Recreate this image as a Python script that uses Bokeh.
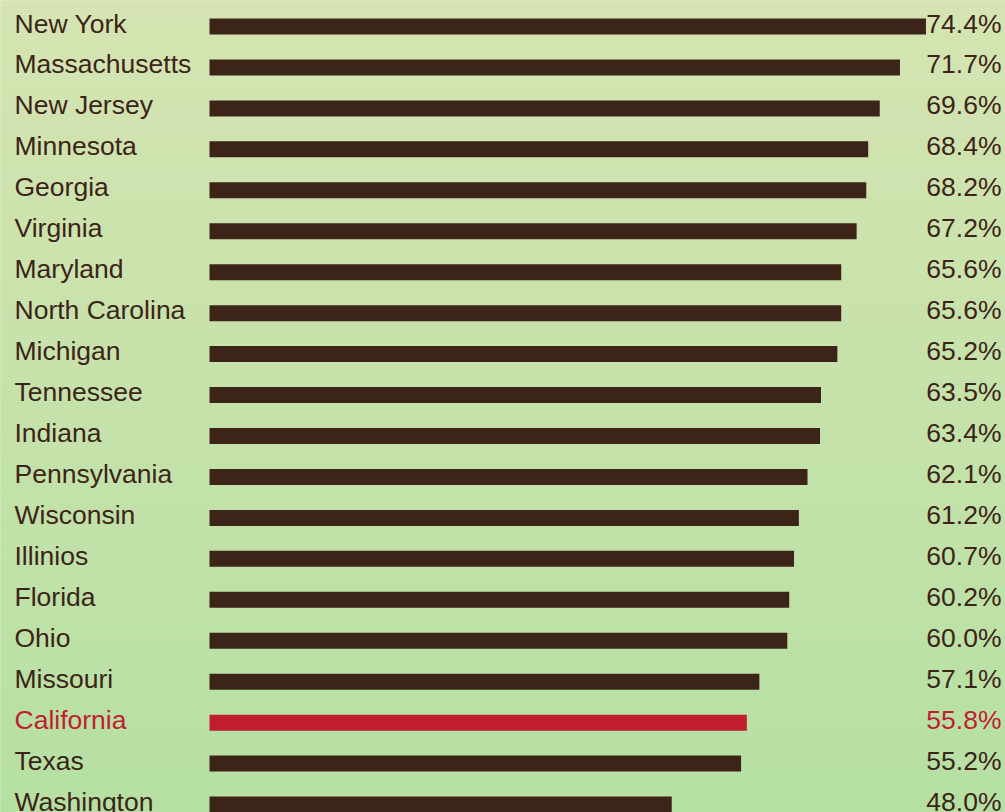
import numpy as np
from bokeh.plotting import figure
from bokeh.models import Range1d
from bokeh.embed import file_html
from bokeh.resources import INLINE
from bokeh.core.properties import value

# ---- data ----
states = ["New York", "Massachusetts", "New Jersey", "Minnesota", "Georgia",
          "Virginia", "Maryland", "North Carolina", "Michigan", "Tennessee",
          "Indiana", "Pennsylvania", "Wisconsin", "Illinios", "Florida",
          "Ohio", "Missouri", "California", "Texas", "Washington"]
rates = [74.4, 71.7, 69.6, 68.4, 68.2, 67.2, 65.6, 65.6, 65.2, 63.5,
         63.4, 62.1, 61.2, 60.7, 60.2, 60.0, 57.1, 55.8, 55.2, 48.0]
rate_labels = ["74.4%", "71.7%", "69.6%", "68.4%", "68.2%", "67.2%", "65.6%",
               "65.6%", "65.2%", "63.5%", "63.4%", "62.1%", "61.2%", "60.7%",
               "60.2%", "60.0%", "57.1%", "55.8%", "55.2%", "48.0%"]
highlight = "California"

# ---- layout / style ----
W, H = 1005, 812
PX_X = 9.63          # px per percentage point
BAR_LEFT_PX = 209    # screen x of the bar baseline
ROW_PX = 40.95       # px per row
FIRST_ROW_PX = 26    # screen y of first row centre
x0 = -BAR_LEFT_PX / PX_X
x1 = x0 + W / PX_X
y_top = -FIRST_ROW_PX / ROW_PX
y_bot = y_top + H / ROW_PX

BROWN = "#3c2418"
RED = "#c01e2e"
FONT = value("Liberation Sans")

p = figure(width=W, height=H, x_range=Range1d(x0, x1), y_range=Range1d(y_bot, y_top),
           output_backend="svg", toolbar_location=None, min_border=0,
           x_axis_location=None, y_axis_location=None)
p.grid.visible = False
p.outline_line_color = None
p.background_fill_color = "#c6e2ad"
p.border_fill_color = "#c6e2ad"

# vertical gradient background
n = 120
edges = np.linspace(y_top, y_bot, n + 1)
top_c = np.array([213, 228, 178])
bot_c = np.array([182, 224, 163])
cols = []
for i in range(n):
    t = i / (n - 1)
    c = (top_c * (1 - t) + bot_c * t).round().astype(int)
    cols.append("#%02x%02x%02x" % tuple(c))
p.quad(left=x0, right=x1, top=edges[:-1], bottom=edges[1:], fill_color=cols,
       line_color=cols, line_width=1)

idx = np.arange(len(states))
colors = [RED if s == highlight else BROWN for s in states]

p.hbar(y=idx, left=0, right=rates, height=16 / ROW_PX, fill_color=colors, line_color=None)

ty = idx - 3 / ROW_PX
p.text(x=x0, y=ty, text=states, x_offset=14, text_align="left", text_baseline="alphabetic",
       text_font=FONT, text_font_size="26.5px", text_color=colors)
p.text(x=x1, y=ty, text=rate_labels, x_offset=-4, text_align="right", text_baseline="alphabetic",
       text_font=FONT, text_font_size="26.5px", text_color=colors)

open("out.html", "w").write(file_html(p, INLINE))
